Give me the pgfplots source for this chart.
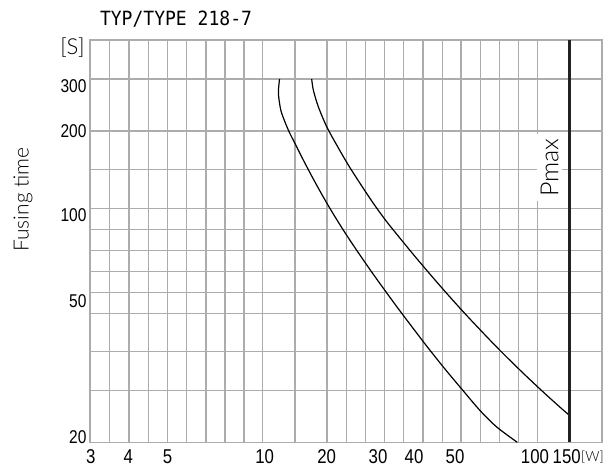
\documentclass[border=0pt]{standalone}
\usepackage{fontspec}
\setmainfont{Lato}
\newfontfamily\lightfont{Lato Light}
\newfontfamily\condfont{Liberation Sans}[FakeStretch=0.84]
\newfontfamily\titlefont{DejaVu Sans Mono}[FakeStretch=0.92]
\usepackage{pgfplots}
\pgfplotsset{compat=1.18}
\definecolor{gridgray}{RGB}{172,172,172}
\definecolor{pmaxcol}{RGB}{34,34,34}
\begin{document}
\begin{tikzpicture}
\path[use as bounding box] (0,0) rectangle (607pt,468pt);
\begin{axis}[
  at={(90pt,25.7pt)}, anchor=south west,
  scale only axis, width=512pt, height=402.3pt,
  xmin=90, xmax=602, ymin=25.7, ymax=428,
  clip=false,
  axis line style={gridgray, line width=1.5pt},
  xtick={109.3,129,148.3,167.3,186.7,206,225,244,262.7,295,327.2,346.3,365.5,384.5,403.7,423,442.3,461.2,480.3,499.3,518.5,537.5},
  ytick={389,337,298.7,259.7,238.7,217.7,196.5,175.5,154.7,116.3,77.3},
  xticklabels={}, yticklabels={},
  grid=major, major grid style={gridgray, line width=1.5pt},
  major tick length=0pt,
  extra x ticks={90.8,128.3,167.5,264.7,326.7,378,414,455,535,566.7},
  extra x tick labels={3,4,5,10,20,30,40,50,100,150},
  extra x tick style={grid=none, major tick length=0pt},
  extra y ticks={381.5,337,253,167,31},
  extra y tick labels={300,200,100,50,20},
  extra y tick style={grid=none, major tick length=0pt},
  xticklabel style={font=\condfont\fontsize{20}{20}\selectfont, yshift=-4pt},
  yticklabel style={font=\condfont\fontsize{18.5}{18.5}\selectfont},
]
\addplot[black, line width=1.2pt, smooth, tension=0.5] coordinates {
(279.5,389) (278.6,380) (278.4,374.7) (279.5,365) (281.7,354.7) (288.3,338)
(295,324.5) (303.3,308) (313.3,289) (323.3,271) (333.3,254) (345,235.3)
(356.7,217.7) (370,198.4) (383.3,179.8) (398.3,159.3) (423.3,126.3) (443.3,101)
(461.7,79) (480,57.5) (496.7,41) (517.3,25.7)};
\addplot[black, line width=1.2pt, smooth, tension=0.5] coordinates {
(311.7,389) (313.3,378) (318.3,361.3) (326.7,341.3) (336.7,323) (348.3,303)
(360,284.7) (373.3,264.7) (386.7,246.3) (401.7,227.7) (416.7,209.5) (433.3,190)
(450,170.9) (466.7,152.5) (486.7,131.3) (503.3,114.3) (523.3,94.7) (543.3,75.9)
(560,60.8) (569,53)};
\addplot[pmaxcol, line width=3pt] coordinates {(569,25.7) (569,428)};
\node[rotate=90, fill=white, inner sep=4pt, font=\lightfont\fontsize{25}{25}\selectfont] at (axis cs:549.5,300.5) {Pmax};
\end{axis}
\node[font=\titlefont\fontsize{19.6}{19.6}\selectfont] at (176pt,449pt) {TYP/TYPE 218-7};
\node[font=\lightfont\fontsize{22}{22}\selectfont] at (72.5pt,420.5pt) {[S]};
\node[font=\lightfont\fontsize{14}{14}\selectfont] at (592.5pt,10.5pt) {[W]};
\node[rotate=90, font=\lightfont\fontsize{21}{21}\selectfont] at (23pt,268.5pt) {Fusing time};
\end{tikzpicture}
\end{document}
